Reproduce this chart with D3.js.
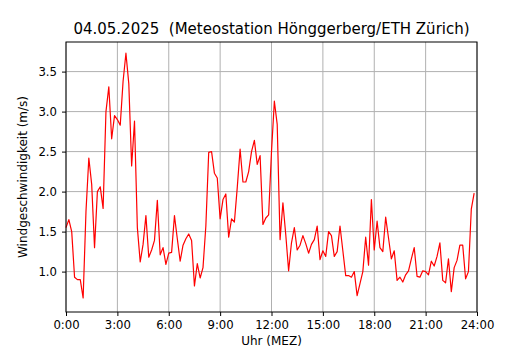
<!DOCTYPE html>
<html>
<head>
<meta charset="utf-8">
<script src="https://cdn.jsdelivr.net/npm/d3@7"></script>
<style>
  body { margin: 0; background: #fff; }
  text { font-family: "DejaVu Sans", sans-serif; fill: #000; }
</style>
</head>
<body>
<svg></svg>
<script>
// wind speed every 10 minutes, 0:00 .. 23:50
var windSpeed = [
  1.55, 1.65, 1.50, 0.93, 0.90, 0.90, 0.67, 1.75, 2.42, 2.09, 1.30, 2.00,
  2.06, 1.79, 3.00, 3.31, 2.66, 2.95, 2.90, 2.83, 3.38, 3.73, 3.35, 2.32,
  2.88, 1.55, 1.12, 1.34, 1.70, 1.18, 1.27, 1.39, 1.89, 1.21, 1.30, 1.09,
  1.23, 1.24, 1.70, 1.41, 1.13, 1.33, 1.41, 1.47, 1.39, 0.82, 1.10, 0.92,
  1.05, 1.57, 2.49, 2.50, 2.23, 2.17, 1.66, 1.90, 1.97, 1.43, 1.66, 1.62,
  2.05, 2.53, 2.12, 2.12, 2.25, 2.50, 2.64, 2.34, 2.45, 1.59, 1.67, 1.71,
  2.50, 3.13, 2.84, 1.40, 1.86, 1.46, 1.01, 1.36, 1.55, 1.27, 1.33, 1.45,
  1.35, 1.23, 1.34, 1.40, 1.57, 1.15, 1.26, 1.19, 1.50, 1.45, 1.19, 1.25,
  1.57, 1.26, 0.95, 0.95, 0.93, 1.00, 0.70, 0.85, 1.00, 1.43, 1.08, 1.90,
  1.27, 1.63, 1.30, 1.25, 1.68, 1.42, 1.16, 1.26, 0.89, 0.93, 0.87, 0.96,
  1.01, 1.16, 1.30, 0.94, 0.93, 1.01, 1.00, 0.96, 1.13, 1.07, 1.19, 1.36,
  0.89, 0.86, 1.16, 0.75, 1.05, 1.14, 1.33, 1.33, 0.91, 1.00, 1.78, 1.98
];
var hourTicks = [0, 3, 6, 9, 12, 15, 18, 21, 24];
var hourLabels = ["0:00", "3:00", "6:00", "9:00", "12:00", "15:00", "18:00", "21:00", "24:00"];
var speedTicks = [1.0, 1.5, 2.0, 2.5, 3.0, 3.5];

var width = 530, height = 350;
var margin = {top: 42, right: 53, bottom: 38, left: 66};

var svg = d3.select("svg").attr("width", width).attr("height", height);

var x = d3.scaleLinear().domain([0, 24]).range([margin.left, width - margin.right]);
var y = d3.scaleLinear().domain([0.495, 3.87]).range([height - margin.bottom, margin.top]);

var points = windSpeed.map(function(v, i){ return {h: i / 6, v: v}; });

// grid
svg.append("g")
   .selectAll("line.vx")
   .data(hourTicks)
   .enter().append("line")
   .attr("x1", function(d){ return x(d); }).attr("x2", function(d){ return x(d); })
   .attr("y1", margin.top).attr("y2", height - margin.bottom)
   .attr("stroke", "#b0b0b0").attr("stroke-width", 1);

svg.append("g")
   .selectAll("line.hy")
   .data(speedTicks)
   .enter().append("line")
   .attr("x1", margin.left).attr("x2", width - margin.right)
   .attr("y1", function(d){ return y(d); }).attr("y2", function(d){ return y(d); })
   .attr("stroke", "#b0b0b0").attr("stroke-width", 1);

var line = d3.line()
  .x(function(d){ return x(d.h); })
  .y(function(d){ return y(d.v); });

svg.append("path")
   .datum(points)
   .attr("d", line)
   .attr("fill", "none")
   .attr("stroke", "red")
   .attr("stroke-width", 1.2)
   .attr("stroke-linejoin", "round");

// frame
svg.append("rect")
   .attr("x", margin.left).attr("y", margin.top)
   .attr("width", width - margin.left - margin.right)
   .attr("height", height - margin.top - margin.bottom)
   .attr("fill", "none").attr("stroke", "#000").attr("stroke-width", 1);

var xAxis = d3.axisBottom(x)
  .tickValues(hourTicks)
  .tickFormat(function(d, i){ return hourLabels[i]; })
  .tickSize(4).tickPadding(5);
var gx = svg.append("g")
   .attr("transform", "translate(0," + (height - margin.bottom) + ")")
   .call(xAxis);

var yAxis = d3.axisLeft(y)
  .tickValues(speedTicks)
  .tickFormat(d3.format(".1f"))
  .tickSize(4).tickPadding(5);
var gy = svg.append("g")
   .attr("transform", "translate(" + margin.left + ",0)")
   .call(yAxis);

[gx, gy].forEach(function(g){
  g.select(".domain").remove();
  g.selectAll("text").attr("font-size", 11.7).attr("font-family", "DejaVu Sans").attr("fill", "#000");
  g.selectAll("line").attr("stroke", "#000");
});

svg.append("text")
   .attr("x", x(12)).attr("y", 345)
   .attr("text-anchor", "middle")
   .attr("font-size", 12)
   .text("Uhr (MEZ)");

svg.append("text")
   .attr("transform", "translate(27," + ((margin.top + height - margin.bottom) / 2) + ") rotate(-90)")
   .attr("text-anchor", "middle")
   .attr("font-size", 12)
   .text("Windgeschwindigkeit (m/s)");

svg.append("text")
   .attr("x", x(12)).attr("y", 34)
   .attr("text-anchor", "middle")
   .attr("font-size", 15)
   .style("white-space", "pre")
   .text("04.05.2025  (Meteostation Hönggerberg/ETH Zürich)");
</script>
</body>
</html>
